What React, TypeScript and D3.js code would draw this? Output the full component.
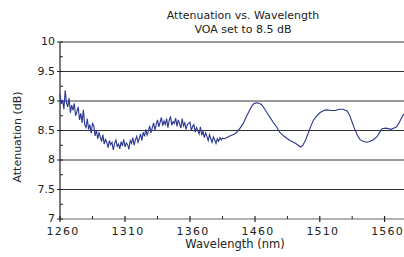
import React from "react";
import * as d3 from "d3";

// ---- data ----
const titleLines = ["Attenuation vs. Wavelength", "VOA set to 8.5 dB"];
const xTickLabels = [1260, 1310, 1360, 1460, 1510, 1560];
const xMinorTicks = [1285, 1335, 1410, 1485, 1535];
const yTicks = [7, 7.5, 8, 8.5, 9, 9.5, 10];
const yMinorTicks = [7.25, 7.75, 8.25, 8.75, 9.25, 9.75];

// noisy segment, 1 nm sampling 1260..1358
const noisyA = [
  9.12, 8.95, 9.02, 8.86, 9.18, 8.97, 8.9, 9.05, 8.8, 8.93,
  8.84, 8.96, 8.75, 8.82, 8.9, 8.68, 8.79, 8.63, 8.85, 8.6,
  8.55, 8.7, 8.52, 8.6, 8.45, 8.62, 8.58, 8.41, 8.5, 8.36,
  8.46, 8.39, 8.31, 8.43, 8.27, 8.35, 8.3, 8.21, 8.33, 8.26,
  8.3, 8.17, 8.28, 8.34, 8.23, 8.27, 8.19, 8.31, 8.24, 8.35,
  8.22, 8.29, 8.26, 8.18, 8.33, 8.28, 8.38, 8.25, 8.34, 8.4,
  8.3, 8.37, 8.44, 8.33, 8.47, 8.4, 8.52, 8.42, 8.49, 8.58,
  8.46, 8.55, 8.63, 8.51, 8.6, 8.68, 8.56, 8.64, 8.72, 8.58,
  8.66, 8.6, 8.7, 8.55, 8.67, 8.74, 8.59, 8.65, 8.62, 8.71,
  8.57, 8.68, 8.61, 8.54, 8.7, 8.58, 8.63, 8.52, 8.6,
];
// noisy segment, 2 nm sampling 1360..1410
const noisyB = [
  8.64, 8.5, 8.57, 8.6, 8.47, 8.55, 8.5, 8.44, 8.56, 8.42,
  8.49, 8.38, 8.46, 8.4, 8.33, 8.43, 8.36, 8.3, 8.39, 8.34,
  8.28, 8.36, 8.32, 8.38, 8.34, 8.37,
];
// smooth segment
const smoothWl = [
  1413, 1417, 1422, 1427, 1432, 1437, 1442, 1447, 1452, 1456, 1459, 1462,
  1465, 1467, 1469, 1472, 1474, 1477, 1479, 1482, 1485, 1487, 1489, 1492,
  1495, 1497, 1499, 1501, 1503, 1505, 1507, 1510, 1513, 1515, 1519, 1522,
  1525, 1528, 1531, 1533, 1535, 1537, 1539, 1541, 1543, 1546, 1548, 1551,
  1554, 1556, 1558, 1561, 1565, 1567, 1569, 1571, 1573, 1575,
];
const smoothVal = [
  8.36, 8.38, 8.41, 8.43, 8.47, 8.54, 8.62, 8.74, 8.85, 8.93, 8.96, 8.97,
  8.94, 8.88, 8.81, 8.71, 8.64, 8.55, 8.47, 8.41, 8.36, 8.33, 8.31, 8.27,
  8.22, 8.25, 8.34, 8.45, 8.57, 8.67, 8.73, 8.8, 8.84, 8.85, 8.84, 8.84,
  8.86, 8.86, 8.83, 8.76, 8.64, 8.52, 8.42, 8.35, 8.32, 8.3, 8.31, 8.34,
  8.39, 8.46, 8.53, 8.54, 8.52, 8.54, 8.56, 8.62, 8.71, 8.78,
];

const wavelengths: number[] = [
  ...noisyA.map((_, i) => 1260 + i),
  ...noisyB.map((_, i) => 1360 + 2 * i),
  ...smoothWl,
];
const attenuation: number[] = [...noisyA, ...noisyB, ...smoothVal];

const W = 404;
const H = 257;
const FONT = "'DejaVu Sans', sans-serif";

export default function App() {
  const x = d3
    .scaleLinear()
    .domain([1260, 1360, 1460, 1575])
    .range([60, 190, 255, 404]);
  const y = d3.scaleLinear().domain([7, 10]).range([219, 42]);

  const pts = wavelengths.map((w, i) => [w, attenuation[i]] as [number, number]);
  const line = d3
    .line<[number, number]>()
    .x((d) => x(d[0]))
    .y((d) => y(d[1]));

  return (
    <svg
      width={W}
      height={H}
      style={{ position: "absolute", left: 0, top: 0, background: "#fff" }}
      fontFamily={FONT}
    >
      <rect width={W} height={H} fill="#fff" />
      {titleLines.map((t, i) => (
        <text
          key={t}
          x={243}
          y={19 + i * 14}
          textAnchor="middle"
          fontSize={11}
          fill="#222"
        >
          {t}
        </text>
      ))}
      {/* gridlines */}
      {yTicks.map((t) => (
        <line
          key={"g" + t}
          x1={60}
          x2={W}
          y1={y(t)}
          y2={y(t)}
          stroke={t === 7 ? "#666" : "#333"}
          strokeWidth={1}
        />
      ))}
      {/* y axis */}
      <line x1={60} x2={60} y1={42} y2={219} stroke="#222" strokeWidth={1.2} />
      {yTicks.map((t) => (
        <g key={"yt" + t}>
          <line x1={57} x2={63} y1={y(t)} y2={y(t)} stroke="#222" />
          <text
            x={55}
            y={y(t)}
            dy="0.3em"
            textAnchor="end"
            fontSize={11}
            fill="#222"
          >
            {t}
          </text>
        </g>
      ))}
      {yMinorTicks.map((t) => (
        <line key={"ym" + t} x1={60} x2={63} y1={y(t)} y2={y(t)} stroke="#222" />
      ))}
      {/* x axis ticks */}
      {xTickLabels.map((t) => (
        <g key={"xt" + t}>
          <line x1={x(t)} x2={x(t)} y1={216} y2={222} stroke="#222" strokeWidth={1.2} />
          <text
            x={x(t) + 3}
            y={235.3}
            textAnchor="middle"
            fontSize={11}
            letterSpacing={1.2}
            fill="#222"
          >
            {t}
          </text>
        </g>
      ))}
      {xMinorTicks.map((t) => (
        <line key={"xm" + t} x1={x(t)} x2={x(t)} y1={216} y2={219} stroke="#222" />
      ))}
      <text x={235} y={248} textAnchor="middle" fontSize={11.5} fill="#222">
        Wavelength  (nm)
      </text>
      <text
        transform="translate(21,137) rotate(-90)"
        textAnchor="middle"
        fontSize={11}
        fill="#222"
      >
        Attenuation (dB)
      </text>
      {/* data */}
      <path d={line(pts) || ""} fill="none" stroke="#2b3590" strokeWidth={1.1} />
    </svg>
  );
}
